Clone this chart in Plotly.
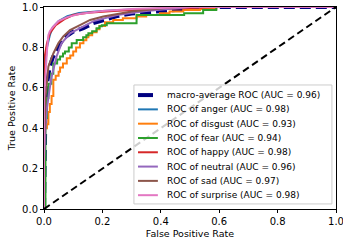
import plotly.graph_objects as go

# ---- data ----
macro_fpr = [0, 0.002, 0.005, 0.01, 0.02, 0.03, 0.043, 0.066, 0.1, 0.135, 0.169, 0.203, 0.25, 0.3, 0.4, 0.5, 0.58, 1.0]
macro_tpr = [0, 0.35, 0.5, 0.62, 0.705, 0.75, 0.787, 0.845, 0.878, 0.895, 0.92, 0.936, 0.955, 0.968, 0.978, 0.988, 1.0, 1.0]

anger_fpr = [0, 0, 0.005, 0.01, 0.02, 0.03, 0.05, 0.08, 0.12, 0.2, 0.3, 0.45, 0.6, 1.0]
anger_tpr = [0, 0.6, 0.72, 0.8, 0.86, 0.9, 0.93, 0.955, 0.97, 0.98, 0.988, 0.995, 1.0, 1.0]

disgust_fpr = [0, 0.003, 0.01, 0.015, 0.02, 0.026, 0.032, 0.04, 0.05, 0.055, 0.065, 0.078, 0.09, 0.1, 0.11,
               0.123, 0.135, 0.145, 0.152, 0.165, 0.18, 0.19, 0.209, 0.237, 0.27, 0.317, 0.35, 0.397, 0.43,
               0.477, 0.534, 0.59, 1.0]
disgust_tpr = [0, 0.4, 0.42, 0.48, 0.52, 0.56, 0.64, 0.66, 0.68, 0.7, 0.72, 0.746, 0.76, 0.78, 0.8,
               0.82, 0.835, 0.85, 0.86, 0.875, 0.89, 0.906, 0.925, 0.936, 0.944, 0.953, 0.96, 0.969, 0.978,
               0.985, 0.99, 1.0, 1.0]

fear_fpr = [0, 0.005, 0.01, 0.015, 0.025, 0.032, 0.045, 0.055, 0.065, 0.072, 0.085, 0.095, 0.112, 0.134,
            0.145, 0.152, 0.165, 0.18, 0.19, 0.198, 0.215, 0.317, 0.48, 0.545, 0.59, 1.0]
fear_tpr = [0, 0.45, 0.55, 0.62, 0.67, 0.72, 0.74, 0.755, 0.77, 0.78, 0.8, 0.82, 0.837, 0.85,
            0.86, 0.87, 0.88, 0.895, 0.905, 0.91, 0.92, 0.96, 0.969, 0.985, 1.0, 1.0]

happy_fpr = [0, 0, 0.003, 0.01, 0.02, 0.04, 0.07, 0.1, 0.15, 0.25, 0.4, 0.6, 1.0]
happy_tpr = [0, 0.73, 0.76, 0.82, 0.87, 0.91, 0.94, 0.96, 0.972, 0.982, 0.99, 1.0, 1.0]

neutral_fpr = [0, 0, 0.005, 0.01, 0.02, 0.026, 0.043, 0.06, 0.089, 0.123, 0.17, 0.25, 0.35, 0.5, 1.0]
neutral_tpr = [0, 0.25, 0.4, 0.5, 0.6, 0.655, 0.755, 0.82, 0.87, 0.895, 0.93, 0.96, 0.98, 1.0, 1.0]

sad_fpr = [0, 0, 0.005, 0.01, 0.015, 0.032, 0.049, 0.066, 0.089, 0.123, 0.158, 0.203, 0.25, 0.3, 0.35, 0.45, 1.0]
sad_tpr = [0, 0.3, 0.55, 0.65, 0.705, 0.77, 0.82, 0.854, 0.886, 0.91, 0.936, 0.953, 0.965, 0.978, 0.985, 1.0, 1.0]

surprise_fpr = [0, 0, 0.01, 0.015, 0.02, 0.03, 0.05, 0.08, 0.12, 0.2, 0.3, 0.5, 1.0]
surprise_tpr = [0, 0.55, 0.78, 0.86, 0.88, 0.9, 0.93, 0.95, 0.965, 0.98, 0.99, 1.0, 1.0]

chance_x = [0, 1]
chance_y = [0, 1]

x_ticks = [0.0, 0.2, 0.4, 0.6, 0.8, 1.0]
y_ticks = [0.0, 0.2, 0.4, 0.6, 0.8, 1.0]

class_names = ["anger", "disgust", "fear", "happy", "neutral", "sad", "surprise"]
class_auc = [0.98, 0.93, 0.94, 0.98, 0.96, 0.97, 0.98]
macro_auc = 0.96
class_colors = ["#1f77b4", "#ff7f0e", "#2ca02c", "#d62728", "#9467bd", "#8c564b", "#e377c2"]
class_fpr = [anger_fpr, disgust_fpr, fear_fpr, happy_fpr, neutral_fpr, sad_fpr, surprise_fpr]
class_tpr = [anger_tpr, disgust_tpr, fear_tpr, happy_tpr, neutral_tpr, sad_tpr, surprise_tpr]
step_classes = {"disgust", "fear"}

# ---- figure ----
fig = go.Figure()
fig.add_trace(go.Scatter(x=macro_fpr, y=macro_tpr, mode="lines",
                         line=dict(color="#000080", width=4, dash="11px,5px"),
                         name=f"macro-average ROC (AUC = {macro_auc:.2f})"))
for name, auc, col, fx, ty in zip(class_names, class_auc, class_colors, class_fpr, class_tpr):
    fig.add_trace(go.Scatter(x=fx, y=ty, mode="lines",
                             line=dict(color=col, width=2,
                                       shape="hv" if name in step_classes else "linear"),
                             name=f"ROC of {name} (AUC = {auc:.2f})"))
fig.add_trace(go.Scatter(x=chance_x, y=chance_y, mode="lines",
                         line=dict(color="black", width=2, dash="7px,4px"), showlegend=False))

# ---- custom matplotlib-like legend (layout decoration) ----
labels = [f"macro-average ROC (AUC = {macro_auc:.2f})"] + \
         [f"ROC of {n} (AUC = {a:.2f})" for n, a in zip(class_names, class_auc)]
styles = [dict(color="#000080", width=4, dash="15px,6px")] + \
         [dict(color=c, width=2) for c in class_colors]

shapes = [dict(type="rect", xref="paper", yref="paper", x0=0.308, x1=0.986, y0=0.025, y1=0.614,
               line=dict(color="#cccccc", width=1), fillcolor="rgba(255,255,255,0.8)", layer="above")]
annotations = []
row_top = 0.564
row_step = 0.0708
for i, (lab, st) in enumerate(zip(labels, styles)):
    yy = row_top - i * row_step
    shapes.append(dict(type="line", xref="paper", yref="paper", x0=0.322, x1=0.390, y0=yy, y1=yy,
                       line=st, layer="above"))
    annotations.append(dict(text=lab, xref="paper", yref="paper", x=0.414, y=yy,
                            xanchor="left", yanchor="middle", showarrow=False,
                            font=dict(size=9, color="#000000", family="DejaVu Sans")))

axis_common = dict(showgrid=False, zeroline=False, showline=True, linecolor="black", linewidth=1,
                   mirror=True, ticks="outside", ticklen=3, tickwidth=1, tickcolor="black",
                   tickformat=".1f", tickfont=dict(size=10, color="#000000"), automargin=False,
                   ticklabeloverflow="allow")

fig.update_layout(
    width=343, height=246,
    margin=dict(l=44, r=7, t=7, b=37),
    paper_bgcolor="white", plot_bgcolor="white",
    font=dict(family="DejaVu Sans", size=10, color="#000000"),
    showlegend=False,
    shapes=shapes, annotations=annotations,
    xaxis=dict(range=[0, 1], tickvals=x_ticks,
               title=dict(text="False Positive Rate", font=dict(size=9.5), standoff=4), **axis_common),
    yaxis=dict(range=[0, 1], tickvals=y_ticks,
               title=dict(text="True Positive Rate", font=dict(size=9.5), standoff=4), **axis_common),
)

fig.write_html("out.html", config={"displayModeBar": False},
               post_script="document.body.style.margin='0';document.body.style.padding='0';")
